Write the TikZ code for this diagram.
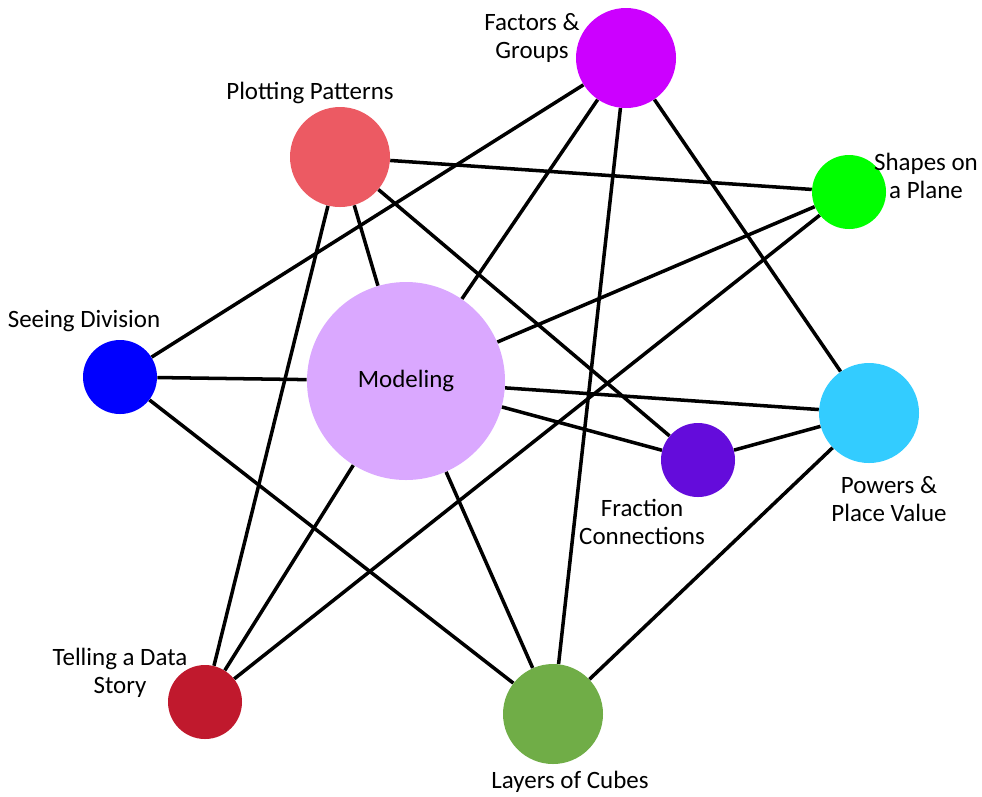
\documentclass[tikz,border=0pt]{standalone}
\usepackage{fontspec}
\setmainfont{Carlito}
\usepackage{tikz}

\definecolor{factorcol}{HTML}{CC00FF}
\definecolor{plotcol}{HTML}{EC5A63}
\definecolor{shapecol}{HTML}{00FF00}
\definecolor{divcol}{HTML}{0000FF}
\definecolor{modelcol}{HTML}{DAA8FF}
\definecolor{powercol}{HTML}{33CCFF}
\definecolor{fraccol}{HTML}{640CDB}
\definecolor{datacol}{HTML}{C0192D}
\definecolor{cubecol}{HTML}{70AD47}

\tikzset{
  topic/.style={circle, inner sep=0pt, draw=none},
  big/.style={topic, minimum size=2cm},
  small/.style={topic, minimum size=1.48cm},
  tag/.style={align=center, font=\fontsize{14.2}{16}\selectfont},
  link/.style={line width=2pt, black}
}

\begin{document}
\begin{tikzpicture}
\useasboundingbox (0,0) rectangle (19.64,-15.92);

%% topics
\node[big, fill=factorcol] (fg) at (12.52,-1.16) {};   %% factors & groups
\node[big, fill=plotcol] (pp) at (6.80,-3.14) {};      %% plotting patterns
\node[small, fill=shapecol] (sp) at (16.98,-3.84) {};  %% shapes on a plane
\node[small, fill=divcol] (sd) at (2.40,-7.54) {};     %% seeing division
\node[topic, minimum size=3.96cm, fill=modelcol, font=\fontsize{14.2}{16}\selectfont] (mo) at (8.12,-7.62) {Modeling}; %% modeling
\node[big, fill=powercol] (pv) at (17.38,-8.26) {};    %% powers & place value
\node[small, fill=fraccol] (fc) at (13.96,-9.20) {};   %% fraction connections
\node[small, fill=datacol] (td) at (4.10,-14.04) {};   %% telling a data story
\node[big, fill=cubecol] (lc) at (11.06,-14.28) {};    %% layers of cubes

%% topic labels
\node[tag] at (10.64,-0.76) (fgl) {Factors \&\\Groups};
\node[tag] at (6.20,-1.86) (ppl) {Plotting Patterns};
\node[tag] at (18.52,-3.52) (spl) {Shapes on\\a Plane};
\node[tag] at (1.68,-6.42) (sdl) {Seeing Division};
\node[tag] at (17.78,-9.98) (pvl) {Powers \&\\Place Value};
\node[tag] at (12.84,-10.44) (fcl) {Fraction\\Connections};
\node[tag] at (2.40,-13.46) (tdl) {Telling a Data\\Story};
\node[tag] at (11.40,-15.64) (lcl) {Layers of Cubes};

%%% links
\draw[link] (fg) -- (sd);   %% factors - division
\draw[link] (fg) -- (mo);   %% factors - modeling
\draw[link] (fg) -- (lc);   %% factors - cubes
\draw[link] (fg) -- (pv);   %% factors - powers
\draw[link] (pp) -- (sp);   %% plotting - shapes
\draw[link] (pp) -- (mo);   %% plotting - modeling
\draw[link] (pp) -- (fc);   %% plotting - fractions
\draw[link] (pp) -- (td);   %% plotting - data story
\draw[link] (sp) -- (mo);   %% shapes - modeling
\draw[link] (sp) -- (td);   %% shapes - data story
\draw[link] (sd) -- (mo);   %% division - modeling
\draw[link] (sd) -- (lc);   %% division - cubes
\draw[link] (mo) -- (pv);   %% modeling - powers
\draw[link] (mo) -- (fc);   %% modeling - fractions
\draw[link] (mo) -- (td);   %% modeling - data story
\draw[link] (mo) -- (lc);   %% modeling - cubes
\draw[link] (fc) -- (pv);   %% fractions - powers
\draw[link] (pv) -- (lc);   %% powers - cubes
\end{tikzpicture}
\end{document}
